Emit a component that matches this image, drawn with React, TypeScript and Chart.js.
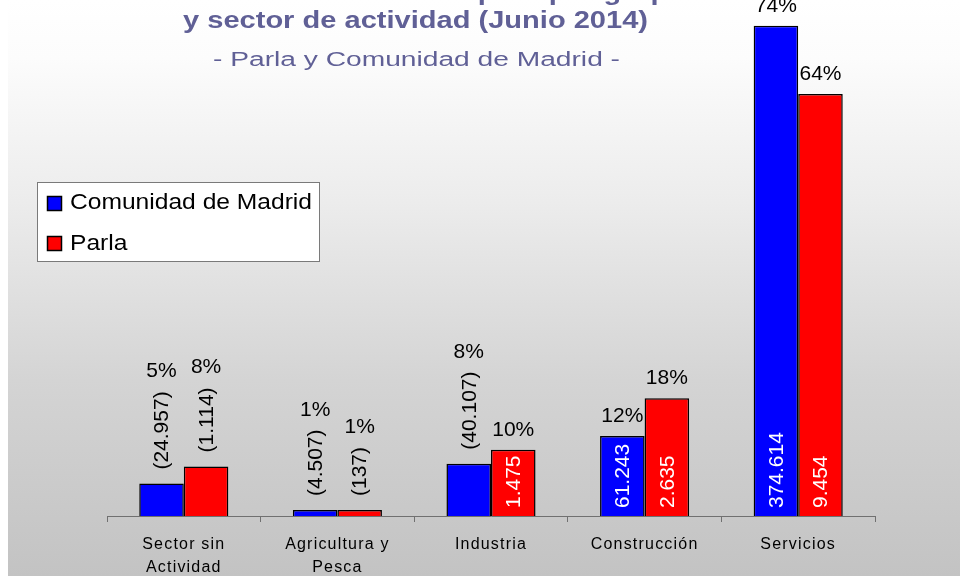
import React, { useEffect, useRef } from 'react';
import { Chart, registerables } from 'chart.js';

Chart.register(...registerables);

// ---- data ----
const categories: (string | string[])[] = [
  ['Sector sin', 'Actividad'],
  ['Agricultura y', 'Pesca'],
  'Industria',
  'Construcción',
  'Servicios',
];
const seriesNames = ['Comunidad de Madrid', 'Parla'];
const madridPct = [4.9, 0.9, 7.9, 12.1, 74.1];
const parlaPct = [7.5, 0.9, 10.0, 17.8, 63.8];
const madridCount = [24957, 4507, 40107, 61243, 374614];
const parlaCount = [1114, 137, 1475, 2635, 9454];
const titleLines = [
  'Distribución del paro por grupo',
  'y sector de actividad (Junio 2014)',
  '- Parla y Comunidad de Madrid -',
];
const seriesColors = ['#0000ff', '#ff0000'];

const FONT = '"Liberation Sans", Arial, Helvetica, sans-serif';

function fmt(n: number): string {
  return String(n).replace(/\B(?=(\d{3})+(?!\d))/g, '.');
}

function drawScaled(ctx: CanvasRenderingContext2D, text: string, x: number, y: number, font: string, sx: number, color: string, align: 'left' | 'center') {
  ctx.save();
  ctx.font = font;
  ctx.fillStyle = color;
  ctx.textBaseline = 'alphabetic';
  ctx.textAlign = 'left';
  const w = ctx.measureText(text).width * sx;
  const left = align === 'center' ? x - w / 2 : x;
  ctx.translate(left, y);
  ctx.scale(sx, 1);
  ctx.fillText(text, 0, 0);
  ctx.restore();
}

const decorPlugin = {
  id: 'decor',
  beforeDraw(chart: any) {
    const { ctx, width, height } = chart;
    ctx.save();
    const g = ctx.createLinearGradient(0, 0, 0, height);
    g.addColorStop(0, '#ffffff');
    g.addColorStop(0.1, '#fcfcfc');
    g.addColorStop(0.35, '#ececec');
    g.addColorStop(0.66, '#d4d4d4');
    g.addColorStop(1, '#c3c3c3');
    ctx.fillStyle = g;
    ctx.fillRect(0, 0, width, height);
    ctx.restore();
    (ctx as any).letterSpacing = '1.2px';
  },
  beforeDatasetsDraw(chart: any) {
    (chart.ctx as any).letterSpacing = '0px';
  },
  afterDatasetsDraw(chart: any) {
    const ctx: CanvasRenderingContext2D = chart.ctx;
    (ctx as any).letterSpacing = '0px';
    const counts = [madridCount, parlaCount];
    const pcts = [madridPct, parlaPct];
    const labelFont = `21px ${FONT}`;
    for (let d = 0; d < 2; d++) {
      const meta = chart.getDatasetMeta(d);
      meta.data.forEach((bar: any, i: number) => {
        const x = bar.x;
        const top = bar.y;
        const base = bar.base;
        const h = base - top;
        ctx.save();
        ctx.font = labelFont;
        const raw = fmt(counts[d][i]);
        const inW = ctx.measureText(raw).width;
        let pctBase: number;
        ctx.textBaseline = 'middle';
        ctx.textAlign = 'left';
        if (inW + 10 < h) {
          // inside, white, rotated
          ctx.save();
          ctx.translate(x, base - 8);
          ctx.rotate(-Math.PI / 2);
          ctx.fillStyle = '#ffffff';
          ctx.fillText(raw, 0, 1);
          ctx.restore();
          pctBase = top - 14;
        } else {
          const txt = '(' + raw + ')';
          const w = ctx.measureText(txt).width;
          ctx.save();
          ctx.translate(x, top - 14);
          ctx.rotate(-Math.PI / 2);
          ctx.fillStyle = '#000000';
          ctx.fillText(txt, 0, 1);
          ctx.restore();
          pctBase = top - 14 - w - 14;
        }
        ctx.textAlign = 'center';
        ctx.textBaseline = 'alphabetic';
        ctx.fillStyle = '#000000';
        ctx.fillText(Math.round(pcts[d][i]) + '%', x, pctBase);
        ctx.restore();
      });
    }
  },
  afterDraw(chart: any) {
    const ctx: CanvasRenderingContext2D = chart.ctx;
    (ctx as any).letterSpacing = '0px';
    const titleColor = '#606096';
    // title
    const bold = `bold 23px ${FONT}`;
    ctx.save();
    ctx.font = bold;
    const sTitle = 465 / ctx.measureText(titleLines[1]).width;
    ctx.font = `20px ${FONT}`;
    const sSub = 407 / ctx.measureText(titleLines[2]).width;
    ctx.restore();
    drawScaled(ctx, titleLines[0], 460, 0, bold, sTitle, titleColor, 'center');
    drawScaled(ctx, titleLines[1], 407.5, 28, bold, sTitle, titleColor, 'center');
    drawScaled(ctx, titleLines[2], 408.5, 66, `20px ${FONT}`, sSub, titleColor, 'center');

    // legend
    ctx.save();
    ctx.fillStyle = '#ffffff';
    ctx.fillRect(29.5, 182.5, 282, 79);
    ctx.strokeStyle = '#7a7a7a';
    ctx.lineWidth = 1;
    ctx.strokeRect(29.5, 182.5, 282, 79);
    const ys = [196.5, 236.5];
    const legFont = `22px ${FONT}`;
    ctx.font = legFont;
    const sLeg = 242 / ctx.measureText(seriesNames[0]).width;
    for (let k = 0; k < 2; k++) {
      ctx.fillStyle = seriesColors[k];
      ctx.fillRect(39.5, ys[k], 14, 14);
      ctx.strokeStyle = '#000000';
      ctx.lineWidth = 1.5;
      ctx.strokeRect(39.5, ys[k], 14, 14);
    }
    ctx.restore();
    drawScaled(ctx, seriesNames[0], 62, 209, legFont, sLeg, '#000000', 'left');
    drawScaled(ctx, seriesNames[1], 62, 250, legFont, sLeg, '#000000', 'left');
  },
};

export default function App() {
  const ref = useRef<HTMLCanvasElement>(null);
  useEffect(() => {
    const chart = new Chart(ref.current as HTMLCanvasElement, {
      type: 'bar',
      data: {
        labels: categories as any,
        datasets: [
          {
            label: seriesNames[0],
            data: madridPct,
            backgroundColor: seriesColors[0],
            borderColor: '#000000',
            borderWidth: 1.5,
            categoryPercentage: 0.58,
            barPercentage: 1,
          },
          {
            label: seriesNames[1],
            data: parlaPct,
            backgroundColor: seriesColors[1],
            borderColor: '#000000',
            borderWidth: 1.5,
            categoryPercentage: 0.58,
            barPercentage: 1,
          },
        ],
      },
      options: {
        animation: false,
        responsive: false,
        devicePixelRatio: 1,
        layout: { padding: { left: 99, right: 85, top: 0, bottom: 0 } },
        plugins: {
          legend: { display: false },
          title: { display: false },
          tooltip: { enabled: false },
        },
        scales: {
          x: {
            grid: {
              offset: true,
              drawOnChartArea: false,
              drawTicks: true,
              tickLength: 6,
              color: '#707070',
              lineWidth: 1,
            },
            border: { display: true, color: '#707070', width: 1 },
            ticks: {
              color: '#000000',
              font: { family: FONT, size: 16, lineHeight: 1.45 },
              padding: 11,
              maxRotation: 0,
              autoSkip: false,
            },
            afterFit: (s: any) => {
              s.height = 60;
            },
          },
          y: { display: false, min: 0, max: 78 },
        },
      },
      plugins: [decorPlugin],
    });
    return () => chart.destroy();
  }, []);
  return (
    <canvas
      ref={ref}
      width={952}
      height={576}
      style={{ position: 'absolute', left: 8, top: 0, width: 952, height: 576 }}
    />
  );
}
